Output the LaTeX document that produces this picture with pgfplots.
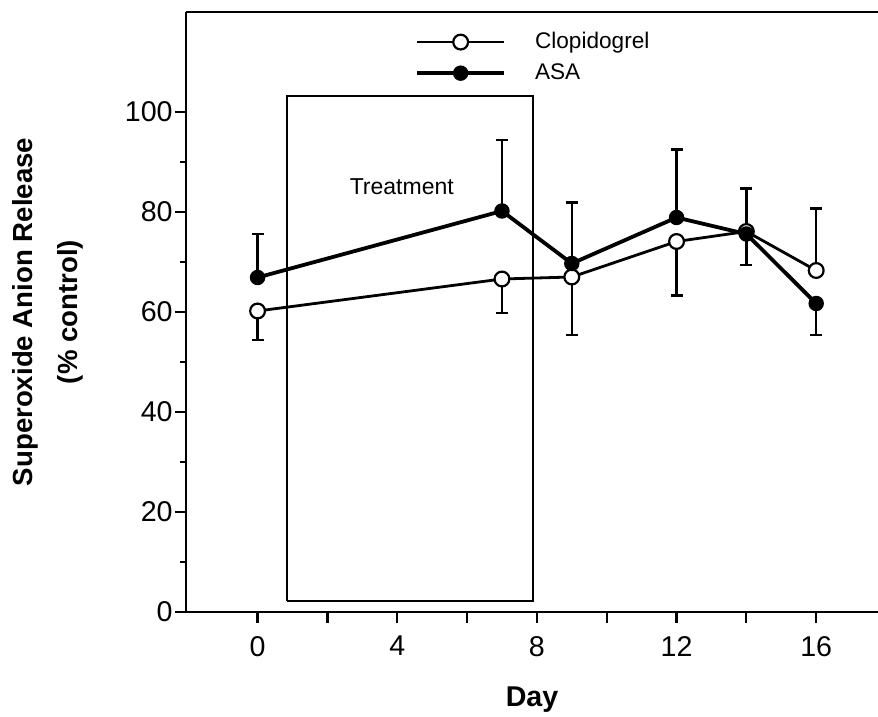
\documentclass[border=0pt]{standalone}
\usepackage{fontspec}
\setmainfont{Liberation Sans}
\usepackage{pgfplots}
\usepackage{pgfplotstable}
\pgfplotsset{compat=1.18}

\pgfplotstableread{
x y ep em
0 60.2 0 5.8
7 66.6 0 6.8
9 67.0 0 11.6
12 74.1 0 10.8
14 76.1 0 6.7
16 68.3 12.4 0
}\clop

\pgfplotstableread{
x y ep em
0 66.9 8.7 0
7 80.2 14.2 0
9 69.7 12.2 0
12 78.9 13.6 0
14 75.6 9.1 0
16 61.7 0 6.3
}\asa

\begin{document}
\begin{tikzpicture}
\begin{axis}[
  name=ax,
  scale only axis, width=346pt, height=300pt,
  xmin=-2.05, xmax=17.77, ymin=0, ymax=120,
  axis x line=box, axis y line=left,
  axis line style={-, line width=1.1pt},
  xtick={0,2,...,16}, xticklabels={0,,4,,8,,12,,16},
  xtick pos=lower, ytick pos=left,
  ytick={0,20,...,100}, minor ytick={10,30,...,90},
  tick align=outside, major tick length=5.5pt, minor tick length=3pt,
  tick style={line width=1.1pt, black},
  ticklabel style={font=\fontsize{14.3}{16}\selectfont},
  xticklabel style={yshift=-3pt},
  yticklabel style={inner xsep=1pt},
  /pgf/number format/assume math mode=true,
  xlabel={Day},
  every axis x label/.style={at={([yshift=-44pt]axis description cs:0.5,0)}, anchor=center, font=\bfseries\fontsize{14.3}{16}\selectfont},
  ylabel={Superoxide Anion Release\\(\% control)},
  every axis y label/.style={at={([xshift=-69pt]axis description cs:0,0.5)}, rotate=90, anchor=center, align=center, font=\bfseries\fontsize{13.8}{22.5}\selectfont},
  legend style={at={(axis description cs:0.322,0.98)}, anchor=north west, draw=none, fill=none,
    font=\fontsize{11.3}{13}\selectfont, row sep=2pt, column sep=12.5pt},
  legend cell align=left,
  legend image code/.code={\draw[mark repeat=2,mark phase=2] plot coordinates {(0cm,0cm)(0.765cm,0cm)(1.53cm,0cm)};},
  clip=false,
]
% treatment box
\addplot[forget plot, black, line width=1.1pt, mark=none] coordinates {(0.85,2.2)(7.9,2.2)(7.9,103.2)(0.85,103.2)(0.85,2.2)};
\node[font=\fontsize{11.5}{13}\selectfont] at (axis cs:4.13,85) {Treatment};

% error bars
\addplot[forget plot, black, only marks, mark=none,
  error bars/.cd, y dir=both, y explicit,
  error bar style={line width=1.2pt, black},
  error mark options={rotate=90, mark size=3pt, line width=1.2pt, black}]
  table[x=x, y=y, y error plus=ep, y error minus=em] {\clop};
\addplot[forget plot, black, only marks, mark=none,
  error bars/.cd, y dir=both, y explicit,
  error bar style={line width=1.2pt, black},
  error mark options={rotate=90, mark size=3pt, line width=1.2pt, black}]
  table[x=x, y=y, y error plus=ep, y error minus=em] {\asa};

\addplot[black, line width=1.4pt, mark=*, mark size=3.7pt, mark options={fill=white, line width=1.1pt, solid}]
  table[x=x, y=y] {\clop};
\addlegendentry{Clopidogrel}
\addplot[black, line width=1.9pt, mark=*, mark size=2.9pt, mark options={fill=black, solid}]
  table[x=x, y=y] {\asa};
\addlegendentry{ASA}
\end{axis}
\pgfresetboundingbox
\path[use as bounding box] ([xshift=-93pt,yshift=-52.5pt]ax.south west) rectangle ([yshift=6pt]ax.north east);
\end{tikzpicture}
\end{document}
